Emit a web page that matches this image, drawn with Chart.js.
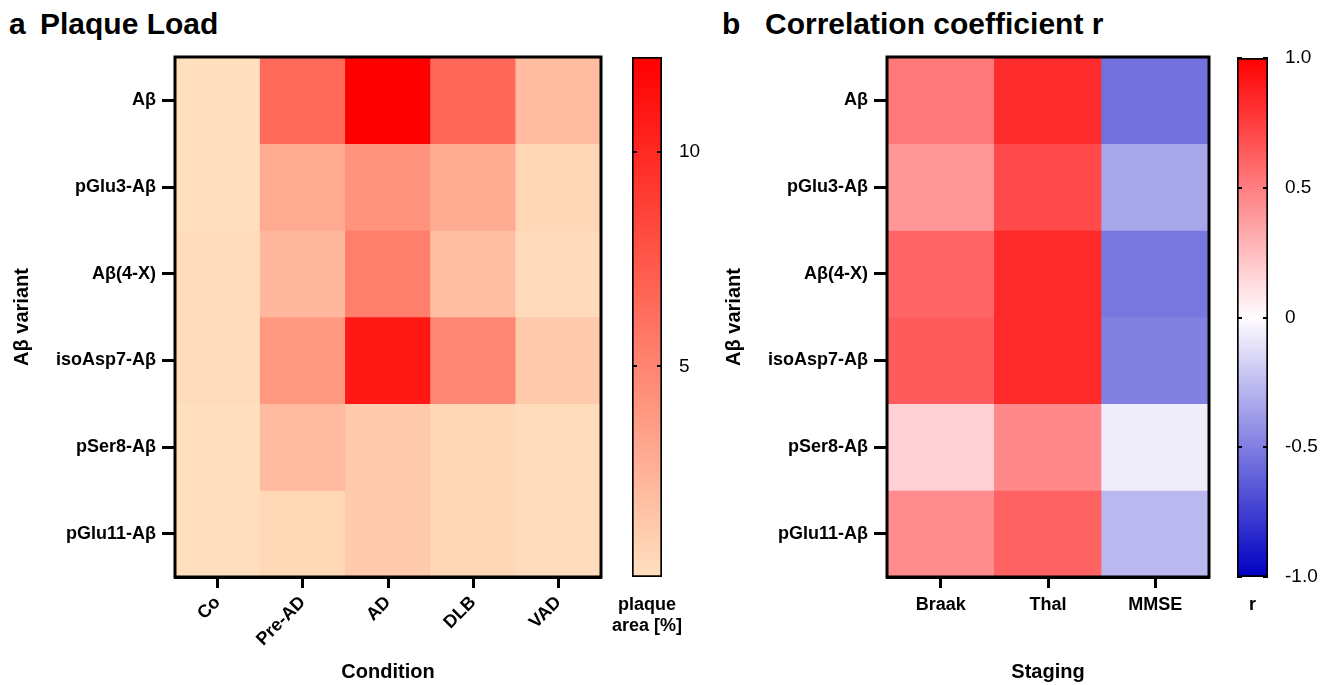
<!DOCTYPE html>
<html>
<head>
<meta charset="utf-8">
<script src="https://cdn.jsdelivr.net/npm/chart.js@4.4.0/dist/chart.umd.min.js"></script>
<style>
  body { margin: 0; background: #fff; width: 1325px; height: 685px; position: relative; overflow: hidden;
         font-family: "Liberation Sans", Arial, sans-serif; }
  canvas { position: absolute; top: 0; }
  .head { position: absolute; top: 9px; font-weight: bold; font-size: 30px; line-height: 30px; color: #000; white-space: nowrap; }
</style>
</head>
<body>
<div class="head" style="left:9px">a</div>
<div class="head" style="left:40px">Plaque Load</div>
<div class="head" style="left:722px">b</div>
<div class="head" style="left:765px">Correlation coefficient r</div>

<canvas id="heatA" width="615" height="685" style="left:0px"></canvas>
<canvas id="barA" width="125" height="685" style="left:600px"></canvas>
<canvas id="heatB" width="518" height="685" style="left:712px"></canvas>
<canvas id="barB" width="95" height="685" style="left:1230px"></canvas>

<script>
const conditions = ["Co", "Pre-AD", "AD", "DLB", "VAD"];
const stagings = ["Braak", "Thal", "MMSE"];
const variants = ["Aβ", "pGlu3-Aβ", "Aβ(4-X)", "isoAsp7-Aβ", "pSer8-Aβ", "pGlu11-Aβ"];

// plaque area [%] per variant, in order Co, Pre-AD, AD, DLB, VAD
const plaqueAb = [0.1, 6.5, 12.2, 6.6, 2.0];
const plaquePGlu3 = [0.1, 2.9, 4.2, 2.9, 0.6];
const plaqueAb4X = [0.2, 2.2, 5.3, 1.9, 0.3];
const plaqueIsoAsp7 = [0.2, 3.9, 10.9, 4.9, 1.3];
const plaquePSer8 = [0.1, 2.1, 1.3, 0.6, 0.2];
const plaquePGlu11 = [0.1, 0.5, 1.3, 0.6, 0.2];

// correlation coefficient r per variant, in order Braak, Thal, MMSE
const rAb = [0.52, 0.82, -0.55];
const rPGlu3 = [0.40, 0.71, -0.34];
const rAb4X = [0.60, 0.83, -0.53];
const rIsoAsp7 = [0.64, 0.83, -0.49];
const rPSer8 = [0.17, 0.46, -0.06];
const rPGlu11 = [0.45, 0.61, -0.27];

const plaqueMin = 0.1, plaqueMax = 12.2;
const plaqueTicks = [5, 10];
const plaqueTickLabels = ["5", "10"];
const rTicks = [-1, -0.5, 0, 0.5, 1];
const rTickLabels = ["-1.0", "-0.5", "0", "0.5", "1.0"];

const plaqueRows = [plaqueAb, plaquePGlu3, plaqueAb4X, plaqueIsoAsp7, plaquePSer8, plaquePGlu11];
const rRows = [rAb, rPGlu3, rAb4X, rIsoAsp7, rPSer8, rPGlu11];

const FONT = "'Liberation Sans', Arial, sans-serif";

function clamp(t) { return Math.max(0, Math.min(1, t)); }

function plaqueColor(v) {
  const t = clamp((v - plaqueMin) / (plaqueMax - plaqueMin));
  return "rgb(255," + Math.round(223 * (1 - t)) + "," + Math.round(190 * (1 - t)) + ")";
}

function rColor(v) {
  if (v >= 0) {
    const t = clamp(v);
    return "rgb(255," + Math.round(252 * (1 - t)) + "," + Math.round(255 * (1 - t)) + ")";
  }
  const t = clamp(-v);
  return "rgb(" + Math.round(255 * (1 - t)) + "," + Math.round(252 * (1 - t)) + "," + Math.round(255 - 60 * t) + ")";
}

const frame = {
  id: "frame",
  afterDatasetsDraw(chart) {
    const a = chart.chartArea;
    const ctx = chart.ctx;
    ctx.save();
    ctx.strokeStyle = "#000";
    ctx.lineWidth = 3;
    ctx.strokeRect(a.left, a.top, a.right - a.left, a.bottom - a.top);
    ctx.restore();
  }
};

// small tick marks inside the colour bar, on both edges
const innerTicks = {
  id: "innerTicks",
  afterDatasetsDraw(chart) {
    const a = chart.chartArea;
    const y = chart.scales.y;
    const ctx = chart.ctx;
    ctx.save();
    ctx.strokeStyle = "#000";
    ctx.lineWidth = 2;
    y.ticks.forEach(t => {
      const py = Math.round(y.getPixelForValue(t.value));
      ctx.beginPath();
      ctx.moveTo(a.left, py); ctx.lineTo(a.left + 5, py);
      ctx.moveTo(a.right - 5, py); ctx.lineTo(a.right, py);
      ctx.stroke();
    });
    ctx.restore();
  }
};

function heatmap(id, cols, rows, values, colorOf, xTitle, rotate, padRight) {
  const datasets = rows.map((name, r) => ({
    label: name,
    data: cols.map(() => [r - 0.5, r + 0.5]),
    backgroundColor: values[r].map(colorOf),
    borderWidth: 0,
    barPercentage: 1,
    categoryPercentage: 1,
    grouped: false
  }));
  return new Chart(document.getElementById(id), {
    type: "bar",
    data: { labels: cols, datasets: datasets },
    options: {
      responsive: false,
      animation: false,
      layout: { padding: { top: 57, right: padRight, left: 0, bottom: 0 } },
      plugins: { legend: { display: false }, tooltip: { enabled: false } },
      scales: {
        x: {
          offset: true,
          grid: { display: true, offset: false, drawOnChartArea: false, tickLength: 11, tickWidth: 3, tickColor: "#000" },
          border: { display: true, width: 3, color: "#000" },
          ticks: { color: "#000", font: { family: FONT, size: 18, weight: "bold" }, padding: rotate ? 4 : 6,
                   minRotation: rotate ? 45 : 0, maxRotation: rotate ? 45 : 0, autoSkip: false },
          title: { display: true, text: xTitle, color: "#000", font: { family: FONT, size: 20, weight: "bold" },
                   padding: { top: 0, bottom: 1 } },
          afterFit: s => { s.height = 108; s.paddingLeft = 0; s.paddingRight = 0; }
        },
        y: {
          type: "linear",
          min: -0.5,
          max: rows.length - 0.5,
          reverse: true,
          afterBuildTicks: s => { s.ticks = rows.map((_, i) => ({ value: i })); },
          grid: { display: true, drawOnChartArea: false, tickLength: 13, tickWidth: 3, tickColor: "#000" },
          border: { display: true, width: 3, color: "#000" },
          ticks: { color: "#000", font: { family: FONT, size: 18, weight: "bold" }, padding: 6,
                   callback: v => rows[v] },
          title: { display: true, text: "Aβ variant", color: "#000", font: { family: FONT, size: 20, weight: "bold" },
                   padding: { top: 10, bottom: 0 } },
          afterFit: s => { s.width = 175; s.paddingTop = 0; s.paddingBottom = 0; }
        }
      }
    },
    plugins: [frame]
  });
}

function colorbar(id, label, min, max, tickVals, tickText, colorOf, padLeft, yWidth, top) {
  return new Chart(document.getElementById(id), {
    type: "bar",
    data: {
      labels: [label],
      datasets: [{
        data: [[min, max]],
        backgroundColor: c => {
          const chart = c.chart;
          if (!chart.chartArea) return "#fff";
          const y = chart.scales.y;
          const g = chart.ctx.createLinearGradient(0, y.getPixelForValue(min), 0, y.getPixelForValue(max));
          for (let i = 0; i <= 20; i++) {
            g.addColorStop(i / 20, colorOf(min + (max - min) * i / 20));
          }
          return g;
        },
        borderColor: "#000",
        borderWidth: 2,
        borderSkipped: false,
        barPercentage: 1,
        categoryPercentage: 1
      }]
    },
    options: {
      responsive: false,
      animation: false,
      layout: { padding: { top: top, left: padLeft, right: 0, bottom: 0 } },
      plugins: { legend: { display: false }, tooltip: { enabled: false } },
      scales: {
        x: {
          grid: { display: false },
          border: { display: false },
          ticks: { color: "#000", font: { family: FONT, size: 18, weight: "bold" }, padding: 9, maxRotation: 0 },
          afterFit: s => { s.height = 108; s.paddingLeft = 0; s.paddingRight = 0; }
        },
        y: {
          position: "right",
          min: min,
          max: max,
          afterBuildTicks: s => { s.ticks = tickVals.map(v => ({ value: v })); },
          grid: { display: false },
          border: { display: false },
          ticks: { color: "#000", font: { family: FONT, size: 19 }, padding: 9,
                   callback: (v, i) => tickText[i] },
          afterFit: s => { s.width = yWidth; s.paddingTop = 0; s.paddingBottom = 0; }
        }
      }
    },
    plugins: [innerTicks]
  });
}

heatmap("heatA", conditions, variants, plaqueRows, plaqueColor, "Condition", true, 14);
colorbar("barA", ["plaque", "area [%]"], plaqueMin, plaqueMax, plaqueTicks, plaqueTickLabels, plaqueColor, 32, 63, 57);
heatmap("heatB", stagings, variants, rRows, rColor, "Staging", false, 21);
colorbar("barB", "r", -1, 1, rTicks, rTickLabels, rColor, 7, 57, 58);
</script>
</body>
</html>
